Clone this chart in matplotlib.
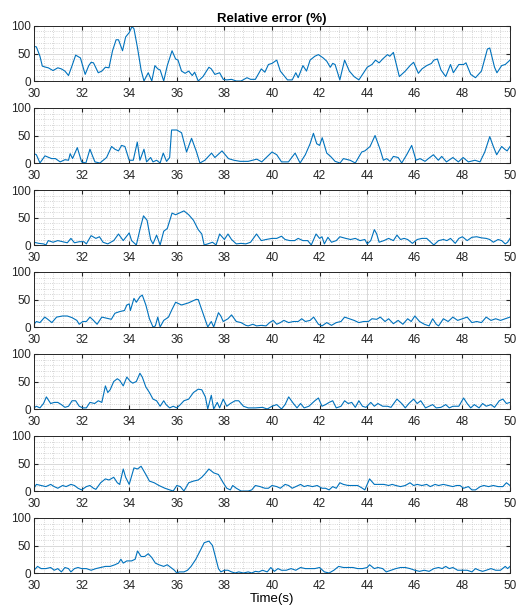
import matplotlib
matplotlib.use("Agg")
import matplotlib.pyplot as plt
from matplotlib.ticker import MultipleLocator

# values, (time, relative error %) per panel
t1 = [30.0, 30.1, 30.25, 30.35, 30.5, 30.6, 30.8, 31.0, 31.15, 31.3, 31.45, 31.6, 31.75, 31.95, 32.15, 32.3, 32.4, 32.5, 32.7, 32.85,
      33.0, 33.15, 33.3, 33.45, 33.55, 33.72, 33.85, 34.0, 34.12, 34.2, 34.35, 34.5, 34.62, 34.8, 34.95, 35.08, 35.2, 35.3, 35.45, 35.6,
      35.8, 35.95, 36.05, 36.2, 36.35, 36.5, 36.65, 36.75, 36.9, 37.1, 37.35, 37.45, 37.6, 37.8, 37.95, 38.1, 38.3, 38.5, 38.7, 38.95,
      39.1, 39.3, 39.55, 39.7, 39.85, 40.0, 40.2, 40.35, 40.5, 40.65, 40.85, 41.0, 41.1, 41.3, 41.45, 41.6, 41.8, 41.95, 42.15, 42.3,
      42.45, 42.55, 42.65, 42.85, 43.05, 43.25, 43.45, 43.65, 43.85, 44.0, 44.2, 44.35, 44.5, 44.65, 44.85, 44.95, 45.1, 45.35, 45.6, 45.8,
      45.95, 46.15, 46.3, 46.5, 46.7, 46.8, 46.95, 47.1, 47.3, 47.5, 47.62, 47.85, 48.05, 48.15, 48.35, 48.55, 48.8, 49.05, 49.15, 49.35,
      49.45, 49.65, 49.8, 50.0]
e1 = [63, 62, 45, 27, 25, 24, 19, 24, 22, 18, 10, 28, 47, 42, 12, 28, 34, 33, 15, 18,
      25, 24, 55, 75, 75, 55, 80, 88, 99, 95, 60, 20, 0, 15, 0, 28, 22, 20, 0, 28,
      55, 40, 38, 18, 14, 18, 10, 16, 0, 8, 25, 22, 12, 15, 3, 2, 3, 0, 0, 6,
      3, 3, 22, 16, 30, 32, 38, 18, 10, 2, 2, 15, 6, 28, 18, 38, 45, 48, 42, 36,
      25, 32, 30, 2, 38, 18, 8, 2, 15, 25, 30, 38, 33, 40, 48, 45, 52, 8, 18, 28,
      34, 14, 22, 28, 32, 38, 40, 20, 8, 30, 15, 30, 30, 33, 12, 6, 18, 58, 60, 25,
      15, 28, 30, 38]

t2 = [30.0, 30.1, 30.25, 30.46, 30.74, 30.9, 31.1, 31.3, 31.45, 31.52, 31.62, 31.82, 32.0, 32.18, 32.35, 32.56, 32.77, 33.05, 33.26, 33.4,
      33.55, 33.68, 33.82, 34.0, 34.17, 34.34, 34.45, 34.62, 34.73, 34.9, 35.0, 35.15, 35.3, 35.43, 35.57, 35.7, 35.78, 36.0, 36.2, 36.41,
      36.62, 36.83, 36.97, 37.18, 37.46, 37.6, 37.9, 38.17, 38.4, 38.66, 39.0, 39.36, 39.57, 40.0, 40.2, 40.4, 40.69, 40.97, 41.18, 41.4,
      41.6, 41.74, 41.88, 42.0, 42.11, 42.3, 42.46, 42.65, 42.86, 43.0, 43.28, 43.5, 43.77, 43.9, 44.12, 44.33, 44.54, 44.68, 44.82, 44.96,
      45.1, 45.3, 45.45, 45.66, 45.87, 46.05, 46.22, 46.43, 46.57, 46.78, 46.99, 47.13, 47.33, 47.6, 47.83, 48.03, 48.25, 48.53, 48.74, 48.94,
      49.15, 49.3, 49.44, 49.65, 49.78, 49.88, 50.0]
e2 = [17, 15, 0, 13, 8, 8, 2, 6, 5, 17, 8, 28, 2, 0, 25, 2, 0, 10, 30, 25,
      22, 32, 30, 5, 5, 38, 5, 25, 2, 10, 2, 5, 0, 18, 3, 10, 60, 60, 55, 20,
      45, 20, 0, 5, 18, 10, 22, 8, 5, 3, 3, 7, 2, 20, 15, 2, 2, 18, 0, 15,
      35, 54, 35, 32, 46, 18, 12, 3, 0, 8, 5, 0, 20, 22, 30, 50, 25, 5, 8, 3,
      12, 10, 0, 15, 32, 5, 8, 3, 8, 15, 5, 12, 2, 10, 2, 10, 2, 5, 2, 20,
      48, 30, 15, 30, 25, 22, 30]

t3 = [30.0, 30.2, 30.4, 30.5, 30.6, 30.8, 31.0, 31.2, 31.4, 31.55, 31.7, 31.9, 32.1, 32.2, 32.4, 32.6, 32.75, 32.9, 33.1, 33.35,
      33.55, 33.75, 34.0, 34.1, 34.3, 34.45, 34.6, 34.75, 34.9, 35.0, 35.15, 35.3, 35.45, 35.6, 35.8, 35.95, 36.1, 36.3, 36.5, 36.7,
      36.9, 37.05, 37.15, 37.3, 37.5, 37.65, 37.8, 38.0, 38.15, 38.3, 38.5, 38.7, 38.9, 39.1, 39.35, 39.55, 39.75, 40.0, 40.2, 40.4,
      40.55, 40.75, 40.95, 41.1, 41.3, 41.5, 41.65, 41.85, 42.0, 42.1, 42.2, 42.35, 42.5, 42.7, 42.85, 43.1, 43.3, 43.5, 43.7, 43.9,
      44.0, 44.15, 44.3, 44.4, 44.5, 44.7, 44.9, 45.1, 45.25, 45.4, 45.55, 45.7, 45.9, 46.1, 46.3, 46.5, 46.6, 46.8, 47.0, 47.2,
      47.35, 47.5, 47.7, 47.85, 48.0, 48.2, 48.4, 48.6, 48.8, 49.0, 49.15, 49.3, 49.5, 49.65, 49.8, 49.9, 50.0]
e3 = [5, 3, 2, 0, 8, 5, 8, 6, 4, 12, 4, 6, 6, 2, 17, 12, 15, 5, 2, 8,
      20, 8, 22, 8, 0, 28, 53, 45, 10, 2, 18, 0, 25, 30, 58, 55, 58, 62, 55, 45,
      28, 20, 0, 2, 5, 0, 20, 10, 20, 10, 2, 3, 2, 5, 20, 8, 10, 12, 12, 16,
      10, 8, 8, 12, 8, 8, 0, 20, 12, 15, 2, 14, 5, 8, 15, 12, 10, 12, 8, 10,
      2, 8, 28, 20, 5, 8, 12, 8, 18, 10, 12, 10, 3, 10, 12, 12, 8, 0, 8, 10,
      8, 12, 3, 12, 15, 8, 14, 15, 13, 12, 10, 5, 10, 8, 2, 5, 12]

t4 = [30.0, 30.1, 30.25, 30.45, 30.55, 30.75, 30.95, 31.2, 31.4, 31.6, 31.8, 31.9, 32.05, 32.2, 32.35, 32.5, 32.65, 32.85, 33.05, 33.25,
      33.4, 33.6, 33.8, 33.9, 34.0, 34.05, 34.2, 34.3, 34.45, 34.55, 34.7, 34.85, 35.0, 35.1, 35.2, 35.3, 35.45, 35.65, 35.8, 35.95,
      36.1, 36.2, 36.5, 36.8, 36.9, 37.1, 37.3, 37.45, 37.55, 37.75, 37.85, 37.95, 38.15, 38.3, 38.5, 38.7, 38.9, 39.0, 39.2, 39.35,
      39.55, 39.75, 39.9, 40.05, 40.2, 40.35, 40.5, 40.7, 40.9, 41.1, 41.25, 41.4, 41.6, 41.75, 41.95, 42.1, 42.3, 42.5, 42.7, 42.9,
      43.05, 43.25, 43.45, 43.65, 43.85, 44.05, 44.2, 44.4, 44.55, 44.75, 44.9, 45.1, 45.3, 45.5, 45.7, 45.85, 46.0, 46.2, 46.4, 46.6,
      46.75, 46.9, 47.0, 47.2, 47.4, 47.6, 47.8, 48.0, 48.2, 48.4, 48.6, 48.8, 49.0, 49.2, 49.4, 49.6, 49.8, 50.0]
e4 = [5, 10, 8, 18, 15, 8, 18, 20, 20, 17, 12, 5, 10, 10, 18, 12, 5, 18, 16, 14,
      25, 28, 30, 40, 42, 30, 52, 45, 55, 58, 40, 15, 0, 2, 18, 0, 12, 18, 32, 45,
      42, 40, 44, 50, 50, 25, 0, 10, 0, 26, 20, 10, 15, 22, 10, 8, 3, 2, 5, 2,
      3, 2, 8, 12, 5, 8, 12, 8, 10, 10, 15, 10, 12, 18, 5, 2, 8, 3, 8, 10,
      18, 15, 12, 8, 10, 10, 15, 14, 18, 10, 15, 6, 12, 5, 15, 10, 20, 10, 5, 2,
      15, 5, 2, 15, 10, 18, 12, 15, 18, 8, 10, 8, 18, 12, 15, 12, 15, 18]

t5 = [30.0, 30.1, 30.25, 30.4, 30.52, 30.7, 30.85, 31.0, 31.15, 31.3, 31.45, 31.6, 31.75, 31.9, 32.05, 32.2, 32.35, 32.55, 32.7, 32.85,
      33.0, 33.1, 33.2, 33.35, 33.5, 33.6, 33.75, 33.9, 34.05, 34.15, 34.3, 34.45, 34.55, 34.7, 34.85, 35.0, 35.15, 35.3, 35.45, 35.55,
      35.7, 35.85, 36.0, 36.15, 36.3, 36.5, 36.7, 36.9, 37.05, 37.2, 37.3, 37.45, 37.55, 37.7, 37.8, 37.95, 38.1, 38.25, 38.45, 38.6,
      38.8, 39.0, 39.3, 39.6, 39.8, 40.0, 40.2, 40.4, 40.55, 40.7, 40.9, 41.05, 41.2, 41.35, 41.55, 41.8, 41.95, 42.1, 42.25, 42.4,
      42.55, 42.7, 42.9, 43.05, 43.2, 43.35, 43.5, 43.65, 43.8, 43.95, 44.15, 44.3, 44.45, 44.65, 44.85, 45.0, 45.25, 45.45, 45.6, 45.75,
      45.95, 46.1, 46.25, 46.45, 46.6, 46.75, 46.9, 47.1, 47.3, 47.45, 47.6, 47.85, 48.05, 48.2, 48.35, 48.5, 48.7, 48.85, 49.0, 49.2,
      49.35, 49.55, 49.7, 49.85, 50.0]
e5 = [2, 5, 2, 10, 22, 10, 12, 12, 8, 3, 5, 15, 15, 5, 2, 2, 12, 10, 15, 12,
      42, 30, 35, 50, 55, 52, 42, 58, 50, 47, 50, 65, 58, 40, 30, 18, 15, 5, 15, 8,
      2, 5, 2, 8, 15, 18, 30, 36, 35, 22, 0, 25, 0, 12, 2, 18, 5, 10, 15, 15,
      5, 2, 2, 3, 0, 5, 8, 0, 8, 22, 10, 2, 10, 2, 5, 15, 20, 5, 8, 12,
      15, 2, 5, 15, 10, 12, 3, 15, 5, 3, 12, 5, 10, 5, 5, 3, 18, 10, 2, 10,
      18, 10, 15, 2, 5, 8, 2, 3, 8, 2, 5, 5, 20, 10, 2, 8, 2, 10, 5, 8,
      3, 15, 18, 10, 12]

t6 = [30.0, 30.1, 30.3, 30.5, 30.7, 30.85, 31.0, 31.2, 31.35, 31.55, 31.7, 31.85, 32.0, 32.2, 32.35, 32.5, 32.6, 32.8, 33.0, 33.15,
      33.35, 33.5, 33.6, 33.75, 33.85, 34.0, 34.2, 34.35, 34.5, 34.7, 34.85, 35.05, 35.25, 35.5, 35.7, 35.85, 36.0, 36.15, 36.3, 36.5,
      36.7, 36.9, 37.05, 37.2, 37.35, 37.55, 37.75, 37.95, 38.1, 38.25, 38.35, 38.5, 38.7, 39.0, 39.15, 39.3, 39.5, 39.7, 39.85, 40.0,
      40.2, 40.35, 40.55, 40.7, 40.85, 41.0, 41.2, 41.35, 41.5, 41.7, 41.9, 42.1, 42.25, 42.4, 42.55, 42.7, 42.85, 43.0, 43.2, 43.4,
      43.6, 43.8, 43.9, 44.1, 44.3, 44.5, 44.7, 44.9, 45.05, 45.2, 45.4, 45.6, 45.8, 45.95, 46.1, 46.3, 46.5, 46.65, 46.85, 47.0,
      47.2, 47.4, 47.6, 47.75, 47.9, 48.05, 48.25, 48.4, 48.55, 48.75, 48.9, 49.1, 49.3, 49.5, 49.7, 49.85, 50.0]
e6 = [5, 12, 10, 8, 12, 8, 5, 10, 8, 12, 10, 5, 2, 8, 10, 5, 3, 15, 22, 20,
      25, 15, 12, 40, 25, 12, 42, 40, 45, 30, 18, 15, 10, 5, 2, 0, 10, 8, 0, 15,
      18, 20, 25, 32, 40, 33, 30, 15, 5, 2, 10, 5, 0, 0, 2, 10, 8, 5, 5, 10,
      8, 5, 12, 10, 5, 8, 12, 8, 10, 8, 10, 5, 5, 2, 8, 5, 15, 12, 10, 10,
      10, 5, 2, 22, 12, 12, 12, 10, 12, 10, 8, 10, 15, 10, 12, 10, 12, 8, 12, 10,
      12, 10, 8, 10, 10, 5, 8, 2, 2, 8, 10, 8, 10, 8, 8, 15, 10]

t7 = [30.0, 30.15, 30.3, 30.5, 30.7, 30.85, 31.0, 31.15, 31.3, 31.45, 31.55, 31.7, 31.85, 32.0, 32.2, 32.4, 32.6, 32.8, 33.0, 33.2,
      33.4, 33.55, 33.65, 33.75, 33.9, 34.1, 34.25, 34.35, 34.5, 34.65, 34.8, 34.95, 35.1, 35.25, 35.45, 35.6, 35.75, 35.9, 36.0, 36.1,
      36.3, 36.45, 36.6, 36.8, 37.0, 37.15, 37.35, 37.5, 37.65, 37.75, 37.85, 38.0, 38.15, 38.3, 38.45, 38.6, 38.8, 39.0, 39.15, 39.3,
      39.45, 39.6, 39.8, 39.95, 40.1, 40.25, 40.4, 40.6, 40.8, 41.0, 41.2, 41.4, 41.6, 41.8, 42.0, 42.2, 42.4, 42.6, 42.8, 43.0,
      43.2, 43.4, 43.6, 43.8, 44.0, 44.1, 44.3, 44.45, 44.65, 44.8, 45.0, 45.2, 45.4, 45.6, 45.8, 46.0, 46.2, 46.4, 46.6, 46.8,
      47.0, 47.15, 47.3, 47.45, 47.6, 47.8, 48.0, 48.2, 48.4, 48.55, 48.7, 48.85, 49.0, 49.2, 49.4, 49.6, 49.8, 49.9, 50.0]
e7 = [5, 12, 8, 8, 10, 5, 8, 2, 10, 8, 2, 8, 10, 8, 8, 5, 8, 10, 12, 12,
      15, 18, 25, 18, 22, 22, 25, 40, 30, 30, 35, 28, 18, 15, 12, 15, 10, 5, 0, 2,
      2, 5, 12, 25, 42, 55, 58, 50, 25, 8, 2, 5, 5, 2, 0, 2, 0, 2, 0, 3,
      2, 5, 2, 10, 3, 8, 5, 5, 8, 5, 10, 8, 8, 8, 10, 2, 0, 5, 12, 10,
      10, 10, 8, 8, 10, 15, 8, 10, 8, 2, 5, 8, 10, 10, 8, 5, 3, 5, 3, 8,
      10, 8, 12, 8, 10, 5, 5, 5, 2, 8, 5, 3, 5, 8, 5, 5, 12, 8, 12]

series = [(t1, e1), (t2, e2), (t3, e3), (t4, e4), (t5, e5), (t6, e6), (t7, e7)]

plt.rcParams['font.family'] = ['Liberation Sans', 'DejaVu Sans']
fig = plt.figure(figsize=(5.18, 6.09), dpi=100)
W, H = 518, 609
edge = '#262626'

for i, (t, e) in enumerate(series):
    bottom = 81 + 82 * i
    ax = fig.add_axes([34 / W, 1 - bottom / H, 476 / W, 55 / H])
    ax.plot(t, e, color='#0072BD', lw=0.8)
    ax.set_xlim(30, 50)
    ax.set_ylim(0, 100)
    ax.set_xticks(range(30, 51, 2))
    ax.set_yticks([0, 50, 100])
    ax.xaxis.set_minor_locator(MultipleLocator(0.4))
    ax.yaxis.set_minor_locator(MultipleLocator(10))
    ax.grid(which='major', color='#d9d9d9', lw=0.7)
    ax.grid(which='minor', color='#c8c8c8', lw=0.6, ls=':')
    ax.set_axisbelow(True)
    ax.tick_params(which='both', direction='in', top=True, right=True, colors=edge, labelsize=8.5)
    ax.tick_params(axis='x', pad=5)
    ax.tick_params(axis='y', pad=2)
    ax.tick_params(which='major', length=3)
    ax.tick_params(which='minor', length=0)
    for s in ax.spines.values():
        s.set_color(edge)
        s.set_linewidth(0.7)
    if i == 0:
        ax.set_title('Relative error (%)', fontsize=9.5, fontweight='bold', pad=3)
    if i == len(series) - 1:
        ax.set_xlabel('Time(s)', fontsize=9.5, labelpad=1)

fig.savefig('out.png', dpi=100)
